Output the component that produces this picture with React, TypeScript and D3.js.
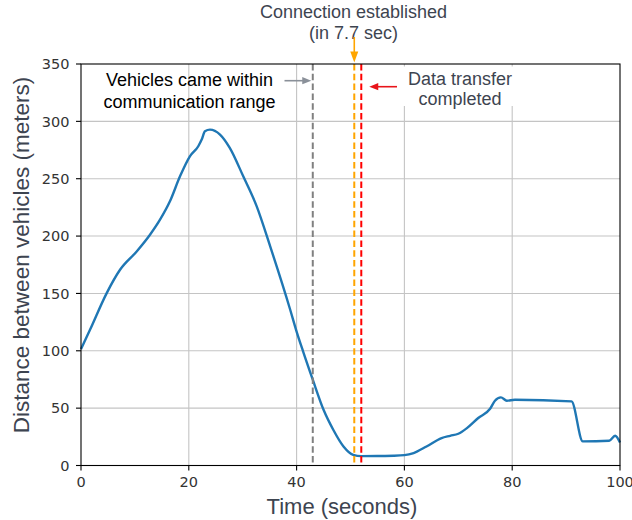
import React from 'react';
import * as d3 from 'd3';

const timeSec = [0, 1.67, 4.77, 7.24, 10.33, 12.8, 14.66, 16.5, 18.37, 20.2, 21.76, 22.39, 23.0, 23.93, 25.79, 27.6, 30.1, 32.6, 35.1, 38.8, 39.9, 41.2, 43, 45, 46.8, 48.7, 50.5, 52, 55, 58, 60, 61.7, 64.1, 66.9, 68.5, 70, 71.6, 73.7, 75.9, 76.8, 77.9, 79, 80.5, 91, 93.1, 98, 99.1, 100];
const distance = [101.5, 118.3, 150.3, 170.6, 186.6, 201.2, 214.3, 230.3, 252.1, 269.5, 278.3, 284.1, 291.4, 292.8, 288.5, 276.9, 252.1, 225.9, 191, 136, 118.3, 99.5, 74.8, 48.6, 31.2, 16.6, 9.3, 8.2, 8.3, 8.5, 9, 10.8, 16.6, 23.9, 25.9, 27.7, 32.6, 41.4, 49.5, 56.5, 59.4, 56.5, 57.3, 55.9, 21, 21.6, 25.9, 20];

const xTicks = [0, 20, 40, 60, 80, 100];
const yTicks = [0, 50, 100, 150, 200, 250, 300, 350];

const rangeTime = 43;
const connectTime = 50.7;
const transferTime = 52;

const W = 632, H = 520;
const M = { left: 81, right: 620, top: 64, bottom: 465.5 };

const TEXT_GRAY = '#3d4450';
const SANS = '"Liberation Sans", Arial, sans-serif';
const TICKF = '"DejaVu Sans", sans-serif';

function arrowHead(tx: number, ty: number, dx: number, dy: number, len: number, hw: number) {
  const bx = tx - dx * len, by = ty - dy * len;
  const px = -dy, py = dx;
  return `M${tx},${ty}L${bx + px * hw},${by + py * hw}L${bx - px * hw},${by - py * hw}Z`;
}

export default function App() {
  const x = d3.scaleLinear().domain([0, 100]).range([M.left, M.right]);
  const y = d3.scaleLinear().domain([0, 350]).range([M.bottom, M.top]);
  const pts = timeSec.map((t, i) => [t, distance[i]] as [number, number]);
  const line = d3.line<[number, number]>().x(d => x(d[0])).y(d => y(d[1])).curve(d3.curveMonotoneX);

  const gx = x(rangeTime), ox = x(connectTime), rx = x(transferTime);

  return (
    <svg width={W} height={H} style={{ position: 'absolute', left: 0, top: 0, background: '#fff' }}>
      <rect x={0} y={0} width={W} height={H} fill="#fff" />
      {xTicks.slice(1, -1).map(t => (
        <line key={'gx' + t} x1={x(t)} x2={x(t)} y1={M.top} y2={M.bottom} stroke="#c4c4c4" strokeWidth={1.1} />
      ))}
      {yTicks.slice(1, -1).map(t => (
        <line key={'gy' + t} x1={M.left} x2={M.right} y1={y(t)} y2={y(t)} stroke="#c4c4c4" strokeWidth={1.1} />
      ))}
      <rect x={399} y={66.5} width={122} height={39.5} fill="#fff" />

      <path d={line(pts) || ''} fill="none" stroke="#1f77b4" strokeWidth={2.4} strokeLinejoin="round" />

      <line x1={gx} x2={gx} y1={M.top} y2={M.bottom} stroke="#808080" strokeWidth={2} strokeDasharray="6.5,3.3" />
      <line x1={ox} x2={ox} y1={M.top} y2={M.bottom} stroke="#ffa500" strokeWidth={2} strokeDasharray="6.5,3.3" />
      <line x1={rx} x2={rx} y1={M.top} y2={M.bottom} stroke="#ff0000" strokeWidth={2} strokeDasharray="6.5,3.3" />

      <rect x={M.left} y={M.top} width={M.right - M.left} height={M.bottom - M.top} fill="none" stroke="#000" strokeWidth={1.1} />

      {xTicks.map(t => (
        <g key={'xt' + t}>
          <line x1={x(t)} x2={x(t)} y1={M.bottom} y2={M.bottom + 5} stroke="#000" strokeWidth={1.1} />
          <text x={x(t)} y={M.bottom + 21} textAnchor="middle" fontFamily={TICKF} fontSize={14.5} fill="#333">{t}</text>
        </g>
      ))}
      {yTicks.map(t => (
        <g key={'yt' + t}>
          <line x1={M.left - 5} x2={M.left} y1={y(t)} y2={y(t)} stroke="#000" strokeWidth={1.1} />
          <text x={M.left - 11.5} y={y(t) + 5.2} textAnchor="end" fontFamily={TICKF} fontSize={14.5} fill="#333">{t}</text>
        </g>
      ))}

      <text x={342} y={514} textAnchor="middle" fontFamily={SANS} fontSize={22} fill={TEXT_GRAY}>Time (seconds)</text>
      <text transform={`translate(29,255) rotate(-90)`} textAnchor="middle" fontFamily={SANS} fontSize={22.5} fill={TEXT_GRAY}>Distance between vehicles (meters)</text>

      <text x={189.5} y={86.3} textAnchor="middle" fontFamily={SANS} fontSize={18} fill="#000">Vehicles came within</text>
      <text x={189.5} y={108} textAnchor="middle" fontFamily={SANS} fontSize={18} fill="#000">communication range</text>
      <line x1={284.5} x2={gx - 9} y1={80.7} y2={80.7} stroke="#8a9099" strokeWidth={1.6} />
      <path d={arrowHead(gx - 1.5, 80.7, 1, 0, 9, 3.6)} fill="#8a9099" />

      <text x={353.5} y={18} textAnchor="middle" fontFamily={SANS} fontSize={18} fill={TEXT_GRAY}>Connection established</text>
      <text x={353.5} y={39} textAnchor="middle" fontFamily={SANS} fontSize={18} fill={TEXT_GRAY}>(in 7.7 sec)</text>
      <line x1={ox} x2={ox} y1={37} y2={52} stroke="#ffa500" strokeWidth={1.6} />
      <path d={arrowHead(ox, 62.5, 0, 1, 11, 4)} fill="#ffa500" />

      <text x={460} y={85.3} textAnchor="middle" fontFamily={SANS} fontSize={18} fill={TEXT_GRAY}>Data transfer</text>
      <text x={460} y={105} textAnchor="middle" fontFamily={SANS} fontSize={18} fill={TEXT_GRAY}>completed</text>
      <line x1={397} x2={rx + 15} y1={86.7} y2={86.7} stroke="#e8141a" strokeWidth={1.6} />
      <path d={arrowHead(rx + 8, 86.7, -1, 0, 9, 3.6)} fill="#e8141a" />
    </svg>
  );
}
